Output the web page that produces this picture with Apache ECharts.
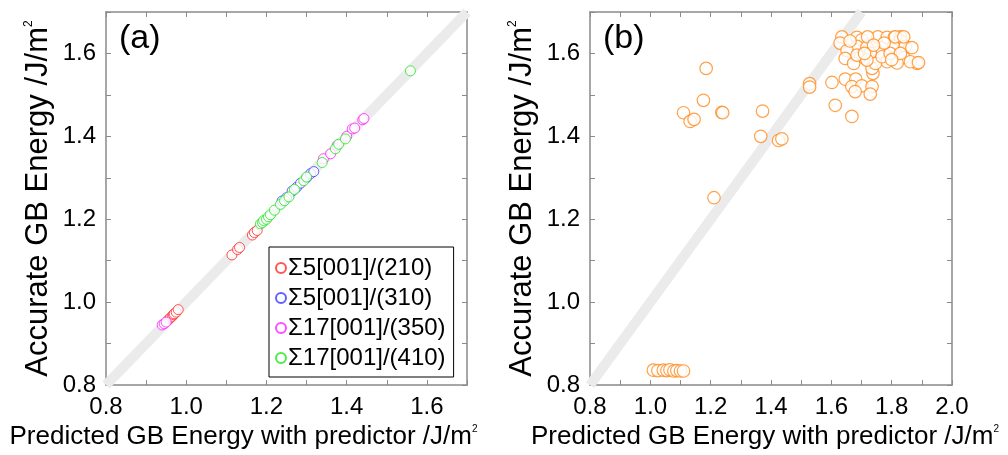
<!DOCTYPE html>
<html>
<head>
<meta charset="utf-8">
<script src="https://cdn.jsdelivr.net/npm/echarts@6/dist/echarts.min.js"></script>
<style>
html,body{margin:0;padding:0;background:#fff;}
#c{width:1008px;height:455px;}
</style>
</head>
<body>
<div id="c"></div>
<script>
// ---- Data (predicted, accurate) in J/m^2 ----
const sigma5_210 = [[0.955,0.957],[0.96,0.962],[0.965,0.966],[0.968,0.970],[0.97,0.972],[0.975,0.976],[0.98,0.982],
  [1.114,1.114],[1.128,1.127],[1.133,1.132],[1.165,1.162],[1.170,1.168],[1.177,1.173]];
const sigma5_310 = [[1.239,1.244],[1.250,1.252],[1.264,1.268],[1.275,1.277],[1.285,1.287],[1.300,1.300],[1.310,1.310],[1.318,1.315]];
const sigma17_350 = [[0.940,0.945],[0.945,0.948],[0.950,0.952],[1.342,1.346],[1.360,1.358],[1.376,1.378],[1.400,1.400],
  [1.414,1.418],[1.420,1.420],[1.440,1.440],[1.443,1.443]];
const sigma17_410 = [[1.185,1.189],[1.190,1.192],[1.193,1.197],[1.200,1.200],[1.205,1.206],[1.210,1.211],[1.220,1.222],
  [1.235,1.236],[1.245,1.245],[1.256,1.254],[1.270,1.272],[1.293,1.293],[1.300,1.302],[1.339,1.337],[1.372,1.370],
  [1.380,1.381],[1.397,1.394],[1.559,1.558]];
const predictorB = [
  // low cluster
  [1.010,0.836],[1.025,0.835],[1.043,0.836],[1.055,0.835],[1.065,0.837],[1.078,0.834],[1.088,0.835],[1.100,0.834],[1.110,0.834],
  // scattered
  [1.185,1.564],[1.176,1.487],[1.110,1.457],[1.132,1.436],[1.145,1.441],[1.237,1.458],[1.240,1.457],[1.211,1.252],
  [1.372,1.461],[1.366,1.400],[1.425,1.390],[1.436,1.394],[1.528,1.527],[1.528,1.519],[1.602,1.530],[1.613,1.475],
  [1.668,1.448],[1.646,1.538],[1.681,1.538],[1.668,1.520],[1.701,1.522],[1.735,1.520],[1.679,1.508],[1.729,1.502],
  [1.738,1.552],[1.735,1.564],
  // upper cluster
  [1.635,1.640],[1.629,1.625],[1.685,1.639],[1.701,1.633],[1.754,1.640],[1.785,1.639],[1.809,1.639],[1.829,1.640],
  [1.829,1.631],[1.685,1.617],[1.652,1.607],[1.718,1.615],[1.757,1.603],[1.729,1.600],[1.806,1.617],[1.845,1.617],
  [1.867,1.614],[1.884,1.576],[1.840,1.590],[1.862,1.580],[1.785,1.580],[1.818,1.577],[1.746,1.576],[1.696,1.592],
  [1.646,1.588],[1.674,1.576],[1.685,1.596],[1.768,1.592],[1.718,1.584],[1.795,1.600],[1.829,1.600],[1.812,1.640],
  [1.840,1.640],[1.662,1.630],[1.720,1.640],[1.775,1.625],[1.740,1.620],[1.800,1.585],[1.710,1.600],[1.889,1.578]
];
const xRangeA = [0.8, 1.7];
const xRangeB = [0.8, 2.0];
const yRange = [0.8, 1.7];
const diagonal = [[0.8,0.8],[1.7,1.7]];
const seriesNames = ['Σ5[001]/(210)','Σ5[001]/(310)','Σ17[001]/(350)','Σ17[001]/(410)'];
const seriesColors = ['#ff2a2a','#3a3aff','#ff22ff','#22e622'];

const FONT = 'Liberation Sans, Arial, sans-serif';
const axisColor = '#8a8a8a';
const xName = '{t|Predicted GB Energy with predictor /J/m}{s|2}';
const yName = '{t|Accurate GB Energy /J/m}{s|2}';
const richX = {
  t:{fontSize:26,fontFamily:FONT,color:'#000'},
  s:{fontSize:10,fontFamily:FONT,color:'#000',verticalAlign:'top',lineHeight:14}
};
const richY = {
  t:{fontSize:31,fontFamily:FONT,color:'#000'},
  s:{fontSize:12,fontFamily:FONT,color:'#000',verticalAlign:'top',lineHeight:16}
};
function fmt(v){ return (Math.round(v*10)%2===0) ? v.toFixed(1) : ''; }

function mkAxis(grid, pos, range, withLabel, extra){
  const a = {
    type:'value', gridIndex:grid, position:pos, min:range[0], max:range[1], interval:0.1,
    axisLine:{show:true,onZero:false,lineStyle:{color:axisColor,width:1.5}},
    axisTick:{show:true,inside:true,length:5,lineStyle:{color:axisColor,width:1}},
    splitLine:{show:false},
    axisLabel:{show:withLabel,formatter:fmt,fontSize:24,fontFamily:FONT,color:'#000',margin:10,showMaxLabel:true}
  };
  return Object.assign(a, extra||{});
}

const hollow = (c,w)=>({color:'#fff',borderColor:c,borderWidth:w});

const option = {
  animation:false,
  backgroundColor:'#fff',
  grid:[
    {left:106,top:12,width:361,height:379},
    {left:590,top:12,width:362,height:379}
  ],
  xAxis:[
    mkAxis(0,'bottom',xRangeA,true,{name:xName,nameLocation:'middle',nameGap:30,nameTextStyle:{rich:richX,padding:[0,86,0,0]}}),
    mkAxis(0,'top',xRangeA,false),
    mkAxis(1,'bottom',xRangeB,true,{name:xName,nameLocation:'middle',nameGap:30,nameTextStyle:{rich:richX,padding:[0,12,0,0]}}),
    mkAxis(1,'top',xRangeB,false)
  ],
  yAxis:[
    mkAxis(0,'left',yRange,true,{name:yName,nameLocation:'middle',nameGap:52,nameTextStyle:{rich:richY}}),
    mkAxis(0,'right',yRange,false),
    mkAxis(1,'left',yRange,true,{name:yName,nameLocation:'middle',nameGap:52,nameTextStyle:{rich:richY}}),
    mkAxis(1,'right',yRange,false)
  ],
  legend:{
    data:seriesNames,
    orient:'vertical', left:269, top:247,
    padding:[9,8,7,6], itemGap:6, itemWidth:10, itemHeight:10,
    backgroundColor:'#fff', borderColor:'#000', borderWidth:1, borderRadius:0,
    textStyle:{fontSize:24,fontFamily:FONT,color:'#000',padding:[0,0,0,-3]},
    icon:'circle'
  },
  graphic:[
    {type:'text',left:119,top:22,style:{text:'(a)',fontSize:34,fontFamily:FONT,fill:'#000'}},
    {type:'text',left:603,top:22,style:{text:'(b)',fontSize:34,fontFamily:FONT,fill:'#000'}}
  ],
  series:[
    {type:'line',xAxisIndex:0,yAxisIndex:0,data:diagonal,showSymbol:false,symbol:'none',silent:true,
      lineStyle:{color:'#ebebeb',width:10,cap:'butt'},z:1},
    {type:'line',xAxisIndex:2,yAxisIndex:2,data:diagonal,showSymbol:false,symbol:'none',silent:true,
      lineStyle:{color:'#ebebeb',width:10,cap:'butt'},z:1},
    {name:seriesNames[0],type:'scatter',xAxisIndex:0,yAxisIndex:0,data:sigma5_210,symbol:'circle',symbolSize:10,itemStyle:hollow(seriesColors[0],1),z:3},
    {name:seriesNames[1],type:'scatter',xAxisIndex:0,yAxisIndex:0,data:sigma5_310,symbol:'circle',symbolSize:10,itemStyle:hollow(seriesColors[1],1),z:3},
    {name:seriesNames[2],type:'scatter',xAxisIndex:0,yAxisIndex:0,data:sigma17_350,symbol:'circle',symbolSize:10,itemStyle:hollow(seriesColors[2],1),z:3},
    {name:seriesNames[3],type:'scatter',xAxisIndex:0,yAxisIndex:0,data:sigma17_410,symbol:'circle',symbolSize:10,itemStyle:hollow(seriesColors[3],1),z:3},
    {name:'predictor',type:'scatter',xAxisIndex:2,yAxisIndex:2,data:predictorB,symbol:'circle',symbolSize:12.5,itemStyle:hollow('#ff8a1a',1.2),z:3}
  ]
};
const chart = echarts.init(document.getElementById('c'),null,{renderer:'canvas'});
chart.setOption(option);
</script>
</body>
</html>
